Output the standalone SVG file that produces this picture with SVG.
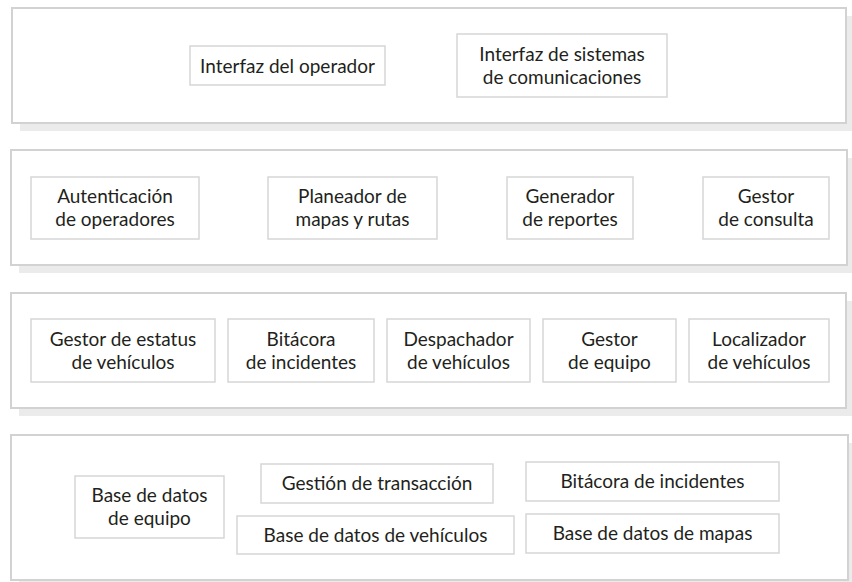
<svg xmlns="http://www.w3.org/2000/svg" width="852" height="582" viewBox="0 0 852 582">
<style>
.shadow{fill:#ebebeb;stroke:none}
.layer{fill:#ffffff;stroke:#d2d2d2;stroke-width:2}
.node{fill:#ffffff;stroke:#d6d6d6;stroke-width:1.5}
text{font-family:Lato,"Open Sans","Liberation Sans",sans-serif;font-size:19px;fill:#231f20;text-anchor:middle}
</style>
<rect width="852" height="582" fill="#ffffff"/>
<g id="layers">
<rect class="shadow" x="20" y="16" width="834" height="115"/>
<rect class="layer" x="12" y="8" width="834" height="115"/>
<rect class="shadow" x="19" y="158" width="836" height="115"/>
<rect class="layer" x="11" y="150" width="836" height="115"/>
<rect class="shadow" x="19" y="301" width="835" height="115"/>
<rect class="layer" x="11" y="293" width="835" height="115"/>
<rect class="shadow" x="19" y="443" width="837" height="145"/>
<rect class="layer" x="11" y="435" width="837" height="145"/>
</g>
<g id="n-interfaz-operador"><rect class="node" x="190" y="46" width="195" height="39"/><text x="287.5" y="72.5">Interfaz del operador</text></g>
<g id="n-interfaz-comunicaciones"><rect class="node" x="457" y="34" width="210" height="63"/><text x="562" y="61">Interfaz de sistemas</text><text x="562" y="83.5">de comunicaciones</text></g>
<g id="n-autenticacion"><rect class="node" x="31" y="177" width="168" height="62"/><text x="115" y="203">Autenticación</text><text x="115" y="226">de operadores</text></g>
<g id="n-planeador"><rect class="node" x="268" y="177" width="169" height="62"/><text x="352.5" y="203">Planeador de</text><text x="352.5" y="226">mapas y rutas</text></g>
<g id="n-generador"><rect class="node" x="507" y="177" width="126" height="62"/><text x="570" y="203">Generador</text><text x="570" y="226">de reportes</text></g>
<g id="n-gestor-consulta"><rect class="node" x="703" y="177" width="126" height="62"/><text x="766" y="203">Gestor</text><text x="766" y="226">de consulta</text></g>
<g id="n-gestor-estatus"><rect class="node" x="31" y="319" width="184" height="63"/><text x="123" y="345.5">Gestor de estatus</text><text x="123" y="368.5">de vehículos</text></g>
<g id="n-bitacora"><rect class="node" x="228" y="319" width="146" height="63"/><text x="301" y="345.5">Bitácora</text><text x="301" y="368.5">de incidentes</text></g>
<g id="n-despachador"><rect class="node" x="387" y="319" width="143" height="63"/><text x="458.5" y="345.5">Despachador</text><text x="458.5" y="368.5">de vehículos</text></g>
<g id="n-gestor-equipo"><rect class="node" x="543" y="319" width="133" height="63"/><text x="609.5" y="345.5">Gestor</text><text x="609.5" y="368.5">de equipo</text></g>
<g id="n-localizador"><rect class="node" x="689" y="319" width="140" height="63"/><text x="759" y="345.5">Localizador</text><text x="759" y="368.5">de vehículos</text></g>
<g id="n-bd-equipo"><rect class="node" x="75" y="476" width="149" height="62"/><text x="149.5" y="502">Base de datos</text><text x="149.5" y="525">de equipo</text></g>
<g id="n-gestion-transaccion"><rect class="node" x="261" y="464" width="232" height="39"/><text x="377" y="490">Gestión de transacción</text></g>
<g id="n-bd-vehiculos"><rect class="node" x="237" y="516" width="277" height="38"/><text x="375.5" y="542">Base de datos de vehículos</text></g>
<g id="n-bitacora-incidentes"><rect class="node" x="526" y="462" width="253" height="39"/><text x="652.5" y="488">Bitácora de incidentes</text></g>
<g id="n-bd-mapas"><rect class="node" x="526" y="514" width="253" height="39"/><text x="652.5" y="540">Base de datos de mapas</text></g>
<g id="connectors"></g>
</svg>
